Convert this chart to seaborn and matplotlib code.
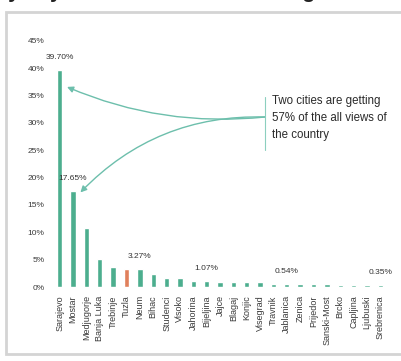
import matplotlib
matplotlib.use("Agg")
import matplotlib.pyplot as plt
import seaborn as sns
import pandas as pd
from matplotlib.patches import Rectangle
from matplotlib.lines import Line2D

cities = ["Sarajevo", "Mostar", "Medjugorje", "Banja Luka", "Trebinje", "Tuzla", "Neum",
          "Bihac", "Studenci", "Visoko", "Jahorina", "Bijeljina", "Jajce", "Blagaj", "Konjic",
          "Visegrad", "Travnik", "Jablanica", "Zenica", "Prijedor", "Sanski-Most", "Brcko",
          "Capljina", "Ljubuski", "Srebrenica"]
share = [39.70, 17.65, 10.8, 5.1, 3.7, 3.3, 3.27, 2.4, 1.6, 1.6, 1.1, 1.07, 1.0, 1.0, 0.95,
         0.9, 0.6, 0.54, 0.5, 0.5, 0.48, 0.45, 0.45, 0.38, 0.35]
highlight = "Tuzla"
labeled = ["Sarajevo", "Mostar", "Neum", "Bijeljina", "Jablanica", "Srebrenica"]
yticks = [0, 5, 10, 15, 20, 25, 30, 35, 40, 45]

GREEN = "#4cae8e"
ORANGE = "#e0805c"

sns.set_theme(style="white")
plt.rcParams["font.family"] = ["Liberation Sans", "DejaVu Sans"]

df = pd.DataFrame({"city": cities, "share": share})
palette = {c: (ORANGE if c == highlight else GREEN) for c in cities}

fig = plt.figure(figsize=(4.01, 3.61), dpi=100)

# slide frame
fig.add_artist(Rectangle((6 / 401, 7 / 361), 1.1, 342 / 361, transform=fig.transFigure,
                         facecolor="white", edgecolor="#d4d4d4", linewidth=2.0, zorder=0))
fig.text(0.45, 1.0 + 7 / 361, "Popularity by city: where views are coming from in country",
         ha="center", va="center", fontsize=15, fontweight="bold", color="#222222")

ax = fig.add_axes([53 / 401, 74 / 361, 334 / 401, 246 / 361])
ax.set_facecolor("none")
sns.barplot(data=df, x="city", y="share", hue="city", palette=palette, legend=False,
            width=0.4, ax=ax, saturation=1)
ax.set_xlim(-0.5, len(cities) - 0.5)
ax.set_ylim(0, 45)
ax.set_yticks(yticks)
ax.set_yticklabels([f"{t}%" for t in yticks], fontsize=6, color="#3a3a3a")
ax.set_xticks(range(len(cities)))
ax.set_xticklabels(cities, rotation=90, fontsize=6.5, color="#3a3a3a")
ax.tick_params(axis="both", length=0, pad=6)
ax.set_xlabel("")
ax.set_ylabel("")
for s in ax.spines.values():
    s.set_visible(False)

for c in labeled:
    i = cities.index(c)
    v = share[i]
    ax.annotate(f"{v:.2f}%", (i, v), xytext=(0, 9), textcoords="offset points",
                ha="center", va="center", fontsize=6, color="#333333")

# callout
src = (15.38, 31.1)
ax.annotate("", xy=(0.55, 36.6), xytext=src,
            arrowprops=dict(arrowstyle="-|>", color="#6dbfac", lw=1.0,
                            connectionstyle="arc3,rad=-0.13", shrinkA=0, shrinkB=0,
                            mutation_scale=9))
ax.annotate("", xy=(1.55, 17.3), xytext=src,
            arrowprops=dict(arrowstyle="-|>", color="#6dbfac", lw=1.0,
                            connectionstyle="arc3,rad=0.22", shrinkA=0, shrinkB=0,
                            mutation_scale=9))
fig.add_artist(Line2D([265 / 401, 265 / 401], [1 - 97 / 361, 1 - 150 / 361],
                      transform=fig.transFigure, color="#8ccfbf", lw=0.8))
fig.text(272 / 401, 1 - 95 / 361,
         "Two cities are getting\n57% of the all views of\nthe country",
         ha="left", va="top", fontsize=8.3, linespacing=1.55, color="#2a2a2a")

fig.savefig("out.png", dpi=100)
